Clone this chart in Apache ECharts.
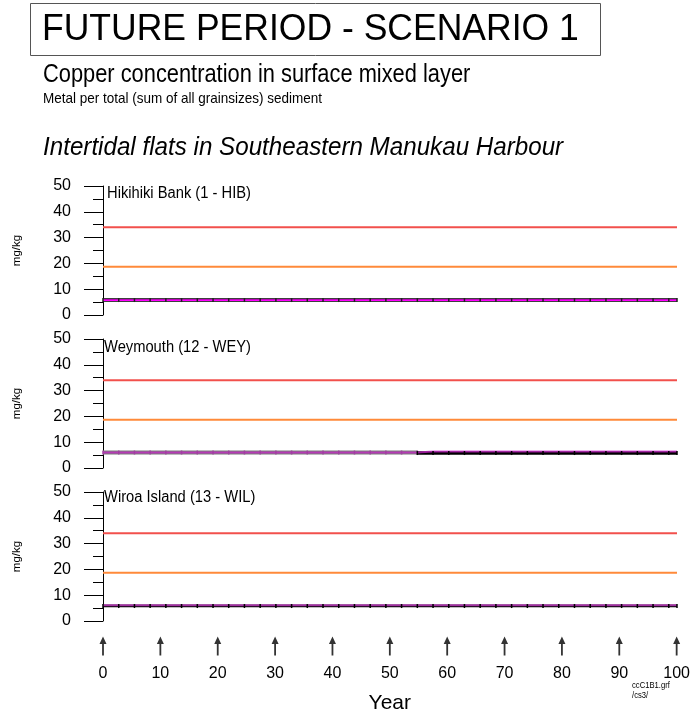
<!DOCTYPE html>
<html><head><meta charset="utf-8">
<script src="https://cdn.jsdelivr.net/npm/echarts@6/dist/echarts.min.js"></script>
<style>html,body{margin:0;padding:0;background:#fff}#c{width:693px;height:715px}</style>
</head><body><div id="c"></div>
<script>
// ---- data ----
const xTickLabels = [0, 10, 20, 30, 40, 50, 60, 70, 80, 90, 100];
const yTickLabels = [0, 10, 20, 30, 40, 50];
const siteNames = ['Hikihiki Bank (1 - HIB)', 'Weymouth (12 - WEY)', 'Wiroa Island (13 - WIL)'];
const guidelineHigh = 34;
const guidelineLow = 18.7;
const guidelineYears = [0, 100];
const outputYears = [0, 2.74, 5.48, 8.21, 10.95, 13.69, 16.43, 19.17, 21.9, 24.64, 27.38, 30.12, 32.86, 35.59, 38.33, 41.07, 43.81, 46.55, 49.28, 52.02, 54.76, 57.5, 60.24, 62.97, 65.71, 68.45, 71.19, 73.93, 76.66, 79.4, 82.14, 84.88, 87.62, 90.35, 93.09, 95.83, 98.57, 100];
// Hikihiki Bank
const hibBlack = [5.8,5.8,5.8,5.8,5.8,5.8,5.8,5.8,5.8,5.8,5.8,5.8,5.8,5.8,5.8,5.8,5.8,5.8,5.8,5.8,5.8,5.8,5.8,5.8,5.8,5.8,5.8,5.8,5.8,5.8,5.8,5.8,5.8,5.8,5.8,5.8,5.8,5.8];
const hibMagenta = [5.8,5.8,5.8,5.8,5.8,5.8,5.8,5.8,5.8,5.8,5.8,5.8,5.8,5.8,5.8,5.8,5.8,5.8,5.8,5.8,5.8,5.8,5.8,5.8,5.8,5.8,5.8,5.8,5.8,5.8,5.8,5.8,5.8,5.8,5.8,5.8,5.8,5.8];
// Weymouth
const weyGrey = [6.0,6.0,6.0,6.0,6.0,6.0,6.0,6.0,6.0,6.0,6.0,6.0,6.0,6.0,6.0,6.0,6.0,6.0,6.0,6.0,6.0,null,null,null,null,null,null,null,null,null,null,null,null,null,null,null,null,null];
const weyBlack = [null,null,null,null,null,null,null,null,null,null,null,null,null,null,null,null,null,null,null,null,5.8,5.8,5.8,5.8,5.8,5.8,5.8,5.8,5.8,5.8,5.8,5.8,5.8,5.8,5.8,5.8,5.8,5.8];
const weyMagenta = [6.0,6.0,6.0,6.0,6.0,6.0,6.0,6.0,6.0,6.0,6.0,6.0,6.0,6.0,6.0,6.0,6.0,6.0,6.0,6.0,6.4,6.4,6.4,6.4,6.4,6.4,6.4,6.4,6.4,6.4,6.4,6.4,6.4,6.4,6.4,6.4,6.4,6.4];
// Wiroa Island
const wilBlack = [5.8,5.8,5.8,5.8,5.8,5.8,5.8,5.8,5.8,5.8,5.8,5.8,5.8,5.8,5.8,5.8,5.8,5.8,5.8,5.8,5.8,5.8,5.8,5.8,5.8,5.8,5.8,5.8,5.8,5.8,5.8,5.8,5.8,5.8,5.8,5.8,5.8,5.8];
const wilMagenta = [6.1,6.1,6.1,6.1,6.1,6.1,6.1,6.1,6.1,6.1,6.1,6.1,6.1,6.1,6.1,6.1,6.1,6.1,6.1,6.1,6.1,6.1,6.1,6.1,6.1,6.1,6.1,6.1,6.1,6.1,6.1,6.1,6.1,6.1,6.1,6.1,6.1,6.1];

// ---- build ----
const FONT = '"Liberation Sans", Arial, Helvetica, sans-serif';
const pair = (xs, ys) => xs.map((x, i) => [x, ys[i]]);
const panelTops = [186, 339, 492];
const grids = [], xAxes = [], yAxes = [], series = [];

panelTops.forEach((top, i) => {
  grids.push({ left: 103, right: 16, top: top, height: 129 });
  xAxes.push({ gridIndex: i, type: 'value', min: 0, max: 100, show: false });
  yAxes.push({
    gridIndex: i, type: 'value', min: 0, max: 50, interval: 10, offset: 7,
    name: 'mg/kg', nameLocation: 'middle', nameGap: 73, nameRotate: 90,
    nameTextStyle: { fontFamily: FONT, fontSize: 11.5, color: '#000' },
    axisLine: { show: true, lineStyle: { color: '#000', width: 1 } },
    axisTick: { show: true, length: 19, lineStyle: { color: '#000' } },
    minorTick: { show: true, splitNumber: 2, length: 10, lineStyle: { color: '#000' } },
    splitLine: { show: false },
    axisLabel: { margin: 25, fontFamily: FONT, fontSize: 16, color: '#000' }
  });
  const lineS = (data, color, width) => ({
    type: 'line', xAxisIndex: i, yAxisIndex: i, data: data, silent: true,
    symbol: 'none', animation: false,
    lineStyle: { color: color, width: width }, itemStyle: { color: color }
  });
  series.push(lineS(pair(guidelineYears, [guidelineHigh, guidelineHigh]), '#f2504c', 2));
  series.push(lineS(pair(guidelineYears, [guidelineLow, guidelineLow]), '#ff8a3a', 2));
});

const markerLine = (i, ys, color, width, symColor) => ({
  type: 'line', xAxisIndex: i, yAxisIndex: i, data: pair(outputYears, ys), silent: true,
  animation: false, connectNulls: false, symbol: 'rect', symbolSize: [1.5, 4], showSymbol: true,
  lineStyle: { color: color, width: width }, itemStyle: { color: symColor || color }
});
const plainLine = (i, ys, color, width, opacity) => ({
  type: 'line', xAxisIndex: i, yAxisIndex: i, data: pair(outputYears, ys), silent: true,
  animation: false, symbol: 'none', step: 'end',
  lineStyle: { color: color, width: width, opacity: opacity == null ? 1 : opacity }
});

series.push(markerLine(0, hibBlack, '#000', 3.5, '#222'));
series.push(plainLine(0, hibMagenta, '#ff00ff', 1.8));

series.push(markerLine(1, weyGrey, '#7a7a7a', 4, '#a040a0'));
series.push(markerLine(1, weyBlack, '#000', 3.5));
series.push(plainLine(1, weyMagenta, '#d020d0', 1.8, 0.7));

series.push(markerLine(2, wilBlack, '#000', 2.5));
series.push(plainLine(2, wilMagenta, '#a030a0', 2));

// arrow row
grids.push({ left: 103, right: 16, top: 636, height: 20 });
xAxes.push({
  gridIndex: 3, type: 'value', min: 0, max: 100, interval: 10,
  axisLine: { show: false }, axisTick: { show: false }, splitLine: { show: false },
  axisLabel: { margin: 10, fontFamily: FONT, fontSize: 16, color: '#000' },
  name: 'Year', nameLocation: 'middle', nameGap: 37,
  nameTextStyle: { fontFamily: FONT, fontSize: 21, color: '#000' }
});
yAxes.push({ gridIndex: 3, type: 'value', min: 0, max: 1, show: false });
series.push({
  type: 'scatter', xAxisIndex: 3, yAxisIndex: 3, silent: true, animation: false,
  data: xTickLabels.map(v => [v, 0.5]),
  symbol: 'path://M3.5,0 L7,8 L4.4,8 L4.4,20 L2.6,20 L2.6,8 L0,8 Z',
  symbolSize: [7, 19], symbolKeepAspect: false,
  itemStyle: { color: '#000' }
});

const txt = (x, y, s, size, sx, italic) => ({
  type: 'text', x: x, y: y, scaleX: sx || 1, scaleY: 1, originX: 0, originY: 0, silent: true,
  style: { x: 0, y: 0, text: s, font: (italic ? 'italic ' : '') + size + 'px ' + FONT, fill: '#000', verticalAlign: 'middle', align: 'left' }
});

const graphics = [
  { type: 'rect', silent: true, shape: { x: 30.5, y: 3.5, width: 570, height: 52 },
    style: { fill: 'none', stroke: '#555', lineWidth: 1 } },
  txt(42, 30, 'FUTURE PERIOD - SCENARIO 1', 37, 0.96),
  txt(43, 75, 'Copper concentration in surface mixed layer', 26, 0.84),
  txt(43, 99, 'Metal per total (sum of all grainsizes) sediment', 15, 0.9),
  txt(43, 148, 'Intertidal flats in Southeastern Manukau Harbour', 26, 0.93, true),
  txt(107, 194, siteNames[0], 16, 0.92),
  txt(104, 348, siteNames[1], 16, 0.92),
  txt(104, 498, siteNames[2], 16, 0.92),
  txt(632, 686, 'ccC1B1.grf', 9, 0.85),
  txt(632, 696, '/cs3/', 9, 0.85)
];

const chart = echarts.init(document.getElementById('c'), null, { renderer: 'canvas' });
chart.setOption({
  animation: false,
  backgroundColor: '#fff',
  grid: grids, xAxis: xAxes, yAxis: yAxes, series: series, graphic: graphics
});
</script></body></html>
